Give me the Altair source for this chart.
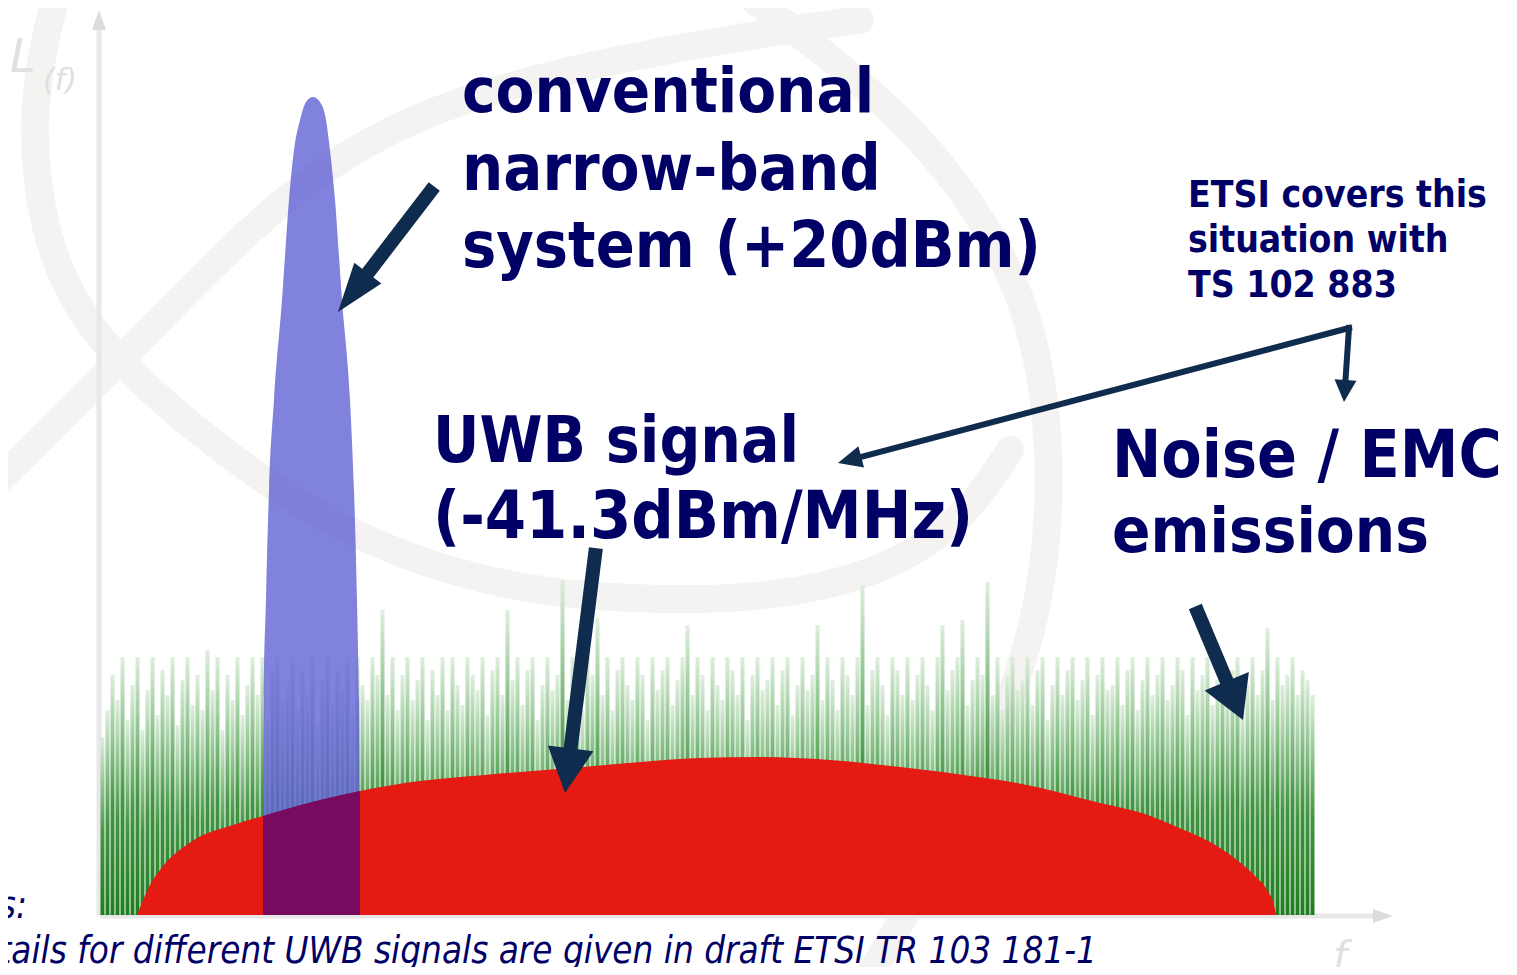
import math
import altair as alt
import pandas as pd

# ---------------- data (frequency f, level L; 10 px per unit on both axes) ----------------
# Noise / EMC emission lines (level of each line, evenly spaced in frequency)
noise_start = 0.25
noise_step = 0.5
noise_level = [
    17.8, 20.5, 24.0, 21.5, 25.8, 19.5, 23.0, 25.8, 18.5, 22.5, 25.8, 20.0, 24.5, 22.0, 25.8, 19.0, 23.5, 25.8, 21.0, 24.0,
    20.5, 26.5, 22.5, 25.8, 18.5, 24.0, 21.5, 25.8, 20.0, 23.0, 25.8, 22.0, 25.8, 19.5, 24.5, 25.8, 21.5, 23.0, 25.8, 20.5,
    24.5, 22.0, 25.8, 19.0, 23.5, 25.8, 21.0, 24.5, 22.5, 25.8, 20.0, 25.8, 23.0, 21.5, 25.8, 24.0, 30.5, 22.0, 25.8, 20.5,
    24.0, 25.8, 21.5, 23.5, 25.8, 19.5, 24.5, 22.0, 25.8, 20.5, 25.8, 23.0, 21.0, 25.8, 24.0, 22.5, 25.8, 20.0, 24.5, 25.8,
    22.0, 30.5, 23.5, 25.8, 21.0, 24.5, 25.8, 19.5, 23.0, 25.8, 22.5, 24.0, 33.5, 21.5, 25.8, 23.5, 20.5, 25.8, 24.0, 29.7,
    22.0, 25.8, 20.5, 24.5, 25.8, 23.0, 21.5, 25.8, 24.0, 19.5, 25.8, 22.5, 24.5, 25.8, 21.0, 23.5, 25.8, 29.0, 22.0, 25.8,
    24.0, 20.5, 25.8, 23.0, 21.5, 25.8, 24.5, 22.0, 25.8, 19.5, 24.0, 25.8, 22.5, 23.5, 25.8, 21.0, 24.5, 25.8, 20.0, 23.0,
    25.8, 22.5, 24.0, 29.0, 21.5, 25.8, 23.5, 20.5, 25.8, 24.0, 22.0, 25.8, 33.0, 21.0, 24.5, 25.8, 23.0, 20.0, 25.8, 24.5,
    22.0, 25.8, 21.5, 24.0, 25.8, 23.0, 20.5, 25.8, 29.0, 22.5, 24.5, 25.8, 29.5, 21.0, 23.5, 25.8, 24.0, 33.3, 22.0, 25.8,
    20.5, 24.0, 25.8, 22.5, 23.5, 25.8, 21.0, 24.5, 25.8, 19.5, 23.0, 25.8, 22.0, 24.5, 25.8, 21.5, 23.5, 25.8, 20.0, 24.0,
    25.8, 22.5, 23.0, 25.8, 21.0, 24.5, 25.8, 20.5, 23.5, 25.8, 22.0, 24.0, 25.8, 21.5, 23.0, 25.8, 24.5, 20.0, 25.8, 22.5,
    24.0, 25.8, 21.0, 23.5, 25.8, 22.5, 24.5, 25.8, 20.5, 23.0, 25.8, 22.0, 24.5, 28.7, 21.5, 25.8, 23.0, 24.0, 25.8, 22.0,
    24.5, 23.5, 22.0,
]

# UWB signal (red dome)
dome_f = [3.7, 4.1, 5.0, 6.0, 9.4, 13.3, 16.3, 21.2, 26.0, 32.0, 38.5, 48.3, 60.0, 66.0, 73.0, 80.0,
          88.5, 91.7, 100.0, 104.5, 107.7, 111.0, 113.3, 115.5, 116.7, 117.5, 117.6]
dome_L = [0.0, 1.0, 3.0, 4.5, 7.5, 9.0, 9.9, 11.3, 12.4, 13.4, 14.0, 14.8, 15.7, 15.8, 15.5, 14.8,
          13.7, 13.2, 11.2, 10.1, 8.8, 7.3, 5.8, 3.9, 2.5, 0.6, 0.0]

# Conventional narrow-band system (blue spike)
spike_f = [16.3, 16.4, 16.6, 16.9, 17.4, 18.2, 18.9, 19.4, 20.0, 20.6, 21.3, 22.0, 22.6, 23.0, 23.5,
           24.2, 25.0, 25.4, 25.7, 25.9, 26.0]
spike_L = [0.0, 21.5, 31.5, 42.5, 51.5, 61.5, 71.5, 76.5, 79.5, 81.3, 81.8, 81.3, 79.5, 76.5, 71.5,
           61.5, 51.5, 42.5, 31.5, 21.5, 0.0]

# faint background globe watermark (read along the bands)
wm_f = [
    [-4.5, -7.0, -6.0, -1.0, 11.8, 24.0, 38.5, 52.0, 66.0, 78.0, 86.5, 91.0],
    [65.4, 81.9, 92.5, 95.4, 94.4, 86.7, 77.0],
    [-10.0, 4.5, 21.9, 40.3, 63.5, 76.0],
]
wm_L = [
    [91.5, 81.5, 68.2, 57.5, 46.5, 38.2, 33.0, 31.5, 31.5, 34.0, 39.5, 46.5],
    [91.5, 79.1, 63.5, 48.0, 29.3, 10.7, -6.0],
    [43.6, 57.9, 76.0, 83.4, 87.8, 89.5],
]

# annotation arrows: tail, tip, head length / half width / shaft width (px)
arrow_tail_f = [33.0, 49.5, 124.9, 124.9, 109.8]
arrow_tail_L = [72.3, 36.0, 58.7, 58.7, 30.2]
arrow_tip_f = [23.8, 46.5, 73.8, 124.4, 114.3]
arrow_tip_L = [60.3, 12.2, 45.2, 51.3, 19.5]
arrow_head_len = [49, 45, 24, 22, 42]
arrow_head_half = [17, 23, 11, 11, 24]
arrow_shaft = [14, 14, 6, 6, 14]

# axes
axis_tail_f = [-0.1, 0.0]
axis_tail_L = [0.0, -0.1]
axis_tip_f = [-0.1, 129.3]
axis_tip_L = [90.5, -0.1]

# texts
big_text = ["conventional", "narrow-band", "system (+20dBm)", "UWB signal", "(-41.3dBm/MHz)",
            "Noise / EMC", "emissions", "ETSI covers this", "situation with", "TS 102 883"]
big_f = [36.2, 36.2, 36.2, 33.3, 33.3, 101.2, 101.2, 108.8, 108.8, 108.8]
big_L = [80.3, 72.5, 64.8, 45.3, 37.7, 43.8, 36.3, 70.8, 66.3, 61.8]
big_size = [63, 64.5, 64, 63.5, 66, 65.5, 63, 37, 37, 37]

note_text = ["Notes:", "Details for different UWB signals are given in draft ETSI TR 103 181-1"]
note_f = [-7.3, 99.7]
note_L = [-0.3, -4.8]

NAVY = "#000066"
ARROW = "#0f2b4d"
BOLD_FONT = "'DejaVu Sans Condensed', 'DejaVu Sans', sans-serif"

# ---------------- scales ----------------
XS = alt.Scale(domain=[-9.2, 140.9], nice=False, zero=False)
YS = alt.Scale(domain=[-5.2, 90.7], nice=False, zero=False)


def xe(field):
    return alt.X(f"{field}:Q", scale=XS, axis=None)


def ye(field):
    return alt.Y(f"{field}:Q", scale=YS, axis=None)


def head_rows(tails_f, tails_L, tips_f, tips_L, lens, halfs, shafts):
    shaft_rows, head_rows_ = [], []
    for tf, tL, pf, pL, hl, hh, sw in zip(tails_f, tails_L, tips_f, tips_L, lens, halfs, shafts):
        df, dL = pf - tf, pL - tL
        n = math.hypot(df, dL)
        uf, uL = df / n, dL / n
        back = 0.6 * hl / 10.0
        shaft_rows.append(dict(f=tf, L=tL, f2=pf - uf * back, L2=pL - uL * back, w=sw))
        ang = math.degrees(math.atan2(df, dL)) % 360
        a = hh / hl
        head_rows_.append(dict(f=pf, L=pL, ang=ang, size=4 * hl * hl,
                               shape=f"M0,0L{-a:.4f},1L{a:.4f},1Z"))
    return pd.DataFrame(shaft_rows), pd.DataFrame(head_rows_)


# ---------------- layers ----------------
wm_rows = []
for sid, (fs, Ls) in enumerate(zip(wm_f, wm_L)):
    for k, (a, b) in enumerate(zip(fs, Ls)):
        wm_rows.append(dict(s=sid, k=k, f=a, L=b))
watermark = alt.Chart(pd.DataFrame(wm_rows)).mark_line(
    interpolate="basis", strokeWidth=28, color="#f4f3f1", strokeCap="round"
).encode(x=xe("f"), y=ye("L"), detail="s:N", order="k:Q")

ax_shaft, ax_head = head_rows(axis_tail_f, axis_tail_L, axis_tip_f, axis_tip_L,
                              [20, 20], [7, 7], [5, 5])
axis_lines = alt.Chart(ax_shaft).mark_rule(color="#e8e8e8").encode(
    x=xe("f"), y=ye("L"), x2="f2:Q", y2="L2:Q",
    strokeWidth=alt.StrokeWidth("w:Q", scale=None))
axis_heads = alt.Chart(ax_head).mark_point(filled=True, opacity=1, color="#dcdcdc", strokeWidth=0).encode(
    x=xe("f"), y=ye("L"),
    shape=alt.Shape("shape:N", scale=None, legend=None),
    angle=alt.Angle("ang:Q", scale=None),
    size=alt.Size("size:Q", scale=None, legend=None))

noise_df = pd.DataFrame({
    "f": [noise_start + noise_step * i - 0.2 for i in range(len(noise_level))],
    "f2": [noise_start + noise_step * i + 0.2 for i in range(len(noise_level))],
    "L": noise_level,
    "base": [0.0] * len(noise_level),
})
noise = alt.Chart(noise_df).mark_rect(
    color=alt.Gradient(
        gradient="linear",
        stops=[alt.GradientStop(color="#066f06", offset=0),
               alt.GradientStop(color="#2f8a2f", offset=0.45),
               alt.GradientStop(color="#8cc38c", offset=0.75),
               alt.GradientStop(color="#dcedda", offset=1)],
        x1=0, x2=0, y1=1, y2=0),
    opacity=0.9,
).encode(x=xe("f"), x2="f2:Q", y=ye("L"), y2="base:Q")

dome_df = pd.DataFrame({"f": dome_f, "L": dome_L, "base": [0.0] * len(dome_f)})
dome = alt.Chart(dome_df).mark_area(color="#e51a12", interpolate="monotone").encode(
    x=xe("f"), y=ye("L"), y2="base:Q")

spike_df = pd.DataFrame({"f": spike_f, "L": spike_L, "base": [0.0] * len(spike_f)})
spike = alt.Chart(spike_df).mark_area(color="#6262d6", opacity=0.8, interpolate="monotone").encode(
    x=xe("f"), y=ye("L"), y2="base:Q")

ov = dome_df[(dome_df.f >= spike_f[0]) & (dome_df.f <= spike_f[-1])]
overlap = alt.Chart(ov).mark_area(color="#780b60", interpolate="monotone").encode(
    x=xe("f"), y=ye("L"), y2="base:Q")

ar_shaft, ar_head = head_rows(arrow_tail_f, arrow_tail_L, arrow_tip_f, arrow_tip_L,
                              arrow_head_len, arrow_head_half, arrow_shaft)
arrow_lines = alt.Chart(ar_shaft).mark_rule(color=ARROW, strokeCap="square").encode(
    x=xe("f"), y=ye("L"), x2="f2:Q", y2="L2:Q",
    strokeWidth=alt.StrokeWidth("w:Q", scale=None))
arrow_heads = alt.Chart(ar_head).mark_point(filled=True, opacity=1, color=ARROW, strokeWidth=0).encode(
    x=xe("f"), y=ye("L"),
    shape=alt.Shape("shape:N", scale=None, legend=None),
    angle=alt.Angle("ang:Q", scale=None),
    size=alt.Size("size:Q", scale=None, legend=None))

big_df = pd.DataFrame({"t": big_text, "f": big_f, "L": big_L, "s": big_size})
big = alt.Chart(big_df).mark_text(
    align="left", baseline="alphabetic", font=BOLD_FONT, fontWeight="bold", color=NAVY
).encode(x=xe("f"), y=ye("L"), text="t:N", size=alt.Size("s:Q", scale=None, legend=None))

note_df = pd.DataFrame({"t": note_text, "f": note_f, "L": note_L})
notes = alt.Chart(note_df).mark_text(
    align="right", baseline="alphabetic", font=BOLD_FONT, fontStyle="italic", fontSize=36.5, color=NAVY
).encode(x=xe("f"), y=ye("L"), text="t:N")

lab_df = pd.DataFrame({"t": ["L", "(f)", "f"], "f": [-9.0, -5.7, 123.3], "L": [84.3, 82.5, -5.5],
                       "s": [46, 30, 40]})
labels = alt.Chart(lab_df).mark_text(
    align="left", baseline="alphabetic", font="DejaVu Sans", fontStyle="italic", color="#e0e0e0"
).encode(x=xe("f"), y=ye("L"), text="t:N", size=alt.Size("s:Q", scale=None, legend=None))

chart = alt.layer(
    watermark, axis_lines, axis_heads, noise, dome, spike, overlap,
    arrow_lines, arrow_heads, big, notes, labels
).properties(
    width=1501, height=959, padding=0,
    autosize=alt.AutoSizeParams(type="none"),
    background="white",
).configure_view(stroke=None)

chart.save("out.html", embed_options={"renderer": "svg", "actions": False})
